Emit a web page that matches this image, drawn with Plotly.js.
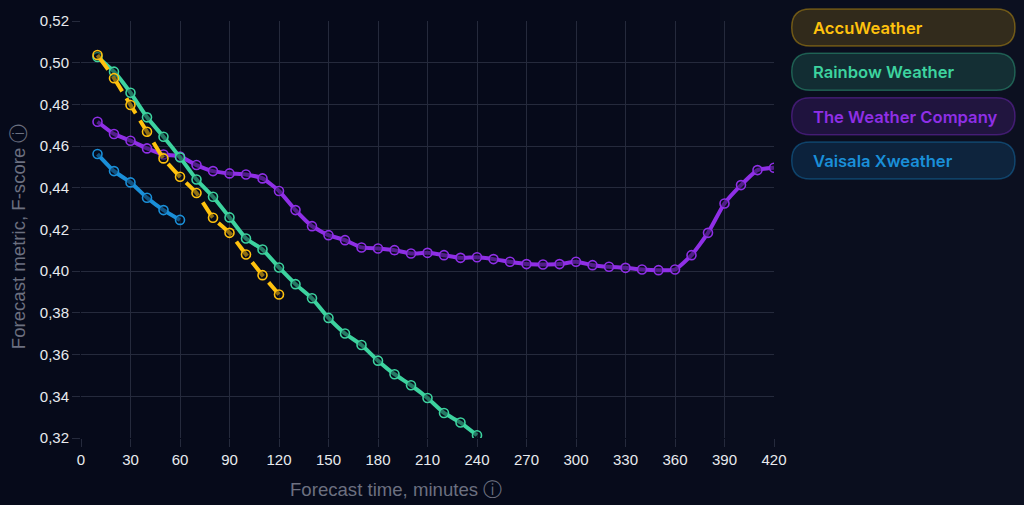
<!DOCTYPE html>
<html>
<head>
<meta charset="utf-8">
<script src="https://cdn.plot.ly/plotly-3.0.1.min.js"></script>
<style>
html,body{margin:0;padding:0;background:#060a1a;}
#chart{width:1024px;height:505px;}
</style>
</head>
<body>
<div id="chart"></div>
<script>
// ---- data ----
const seriesNames = ["AccuWeather", "Rainbow Weather", "The Weather Company", "Vaisala Xweather"];
const xTickVals = [0,30,60,90,120,150,180,210,240,270,300,330,360,390,420];
const yTickVals = [0.32,0.34,0.36,0.38,0.40,0.42,0.44,0.46,0.48,0.50,0.52];

const accuTime = [10,20,30,40,50,60,70,80,90,100,110,120];
const accuScore = [0.5037,0.4926,0.4797,0.4669,0.4541,0.4453,0.4375,0.4256,0.4184,0.4080,0.3981,0.3888];

const rainbowTime = [10,20,30,40,50,60,70,80,90,100,110,120,130,140,150,160,170,180,190,200,210,220,230,240];
const rainbowScore = [0.5027,0.4957,0.4856,0.4738,0.4645,0.4546,0.4440,0.4357,0.4258,0.4157,0.4104,0.4018,0.3938,0.3870,0.3776,0.3701,0.3646,0.3571,0.3506,0.3453,0.3392,0.3320,0.3274,0.3213];

const twcTime = [10,20,30,40,50,60,70,80,90,100,110,120,130,140,150,160,170,180,190,200,210,220,230,240,250,260,270,280,290,300,310,320,330,340,350,360,370,380,390,400,410,420];
const twcScore = [0.4717,0.4658,0.4626,0.4589,0.4560,0.4550,0.4509,0.4480,0.4469,0.4464,0.4445,0.4385,0.4293,0.4216,0.4173,0.4149,0.4114,0.4109,0.4101,0.4085,0.4088,0.4077,0.4064,0.4067,0.4058,0.4045,0.4034,0.4032,0.4034,0.4045,0.4029,0.4021,0.4016,0.4008,0.4005,0.4008,0.4077,0.4184,0.4325,0.4413,0.4485,0.4496];

const vaisalaTime = [10,20,30,40,50,60];
const vaisalaScore = [0.4562,0.4480,0.4426,0.4352,0.4293,0.4246];

// ---- styles ----
const colors = ["#FFC20E", "#3DD39F", "#8F2FE6", "#1A8FD8"];
const rgba = (hex, a) => {
  const n = parseInt(hex.slice(1), 16);
  return `rgba(${(n>>16)&255},${(n>>8)&255},${n&255},${a})`;
};
const gridColor = "#252a3c";

function trace(x, y, i, dash) {
  return {
    type: "scatter", mode: "lines+markers", x: x, y: y, name: seriesNames[i],
    line: {color: colors[i], width: 4, shape: "spline", smoothing: 0.5, dash: dash || "solid"},
    marker: {size: 9, color: "rgba(6,10,26,0.45)", line: {color: colors[i], width: 1.6}},
    hoverinfo: "skip"
  };
}

const data = [
  trace(twcTime, twcScore, 2),
  trace(vaisalaTime, vaisalaScore, 3),
  trace(rainbowTime, rainbowScore, 1),
  trace(accuTime, accuScore, 0, "18px,8px")
];

// plot area in pixels
const L = 81, R = 774, T = 21, B = 437.7;
const px = x => (x - L) / (R - L);
const py = y => (B - y) / (B - T);

function pill(x0, y0, x1, y1, r) {
  const p = [
    ["M", x0 + r, y0], ["L", x1 - r, y0], ["Q", x1, y0, x1, y0 + r], ["L", x1, y1 - r],
    ["Q", x1, y1, x1 - r, y1], ["L", x0 + r, y1], ["Q", x0, y1, x0, y1 - r], ["L", x0, y0 + r],
    ["Q", x0, y0, x0 + r, y0]
  ];
  return p.map(s => {
    const c = s[0]; const v = s.slice(1);
    const out = [];
    for (let k = 0; k < v.length; k += 2) out.push(px(v[k]).toFixed(5) + "," + py(v[k+1]).toFixed(5));
    return c + out.join(" ");
  }).join(" ") + " Z";
}

const shapes = [];
const annotations = [];
// subtle background gradient toward right
for (let k = 0; k < 6; k++) {
  shapes.push({type: "rect", xref: "paper", yref: "paper", x0: px(560 + k*80), x1: px(1030), y0: py(510), y1: py(-5),
    fillcolor: "rgba(40,44,60,0.045)", line: {width: 0}, layer: "below"});
}
const boxTops = [9, 53.3, 97.7, 142];
seriesNames.forEach((name, i) => {
  const y0 = boxTops[i], y1 = y0 + 37;
  shapes.push({type: "path", xref: "paper", yref: "paper", path: pill(791.7, y0, 1015, y1, 18.5),
    fillcolor: rgba(colors[i], 0.16), line: {color: rgba(colors[i], 0.36), width: 1.5}});
  annotations.push({xref: "paper", yref: "paper", x: px(811), y: py((y0 + y1) / 2 + 0.5), xanchor: "left", yanchor: "middle",
    text: name, showarrow: false, font: {family: "Inter, Noto Sans, sans-serif", size: 16.6, color: colors[i], weight: 600}});
});
annotations.push({xref: "paper", yref: "paper", x: px(396), y: py(489), xanchor: "center", yanchor: "middle",
  text: "Forecast time, minutes ⓘ", showarrow: false, font: {family: "Liberation Sans, Arial, sans-serif", size: 18.6, color: "#6c7080"}});
annotations.push({xref: "paper", yref: "paper", x: px(18), y: py(236), xanchor: "center", yanchor: "middle", textangle: -90,
  text: "Forecast metric, F-score ⓘ", showarrow: false, font: {family: "Liberation Sans, Arial, sans-serif", size: 18.6, color: "#6c7080"}});

const layout = {
  width: 1024, height: 505,
  margin: {l: L, r: 1024 - R, t: T, b: 505 - B, pad: 0},
  paper_bgcolor: "#060a1a", plot_bgcolor: "rgba(0,0,0,0)",
  separators: ", ",
  showlegend: false,
  font: {family: "Liberation Sans, Arial, sans-serif", color: "#e8eaee", size: 15},
  xaxis: {range: [0, 420], tickvals: xTickVals, ticktext: xTickVals.map(String), showgrid: true, gridcolor: gridColor, gridwidth: 1,
    zeroline: false, showline: false, ticks: "outside", ticklen: 8, tickcolor: gridColor, tickwidth: 1,
    tickfont: {size: 15, color: "#e8eaee"}, fixedrange: true},
  yaxis: {range: [0.32, 0.52], tickvals: yTickVals, tickformat: ".2f", showgrid: true, gridcolor: gridColor, gridwidth: 1,
    zeroline: false, showline: false, ticks: "outside", ticklen: 8, tickcolor: gridColor, tickwidth: 1,
    tickfont: {size: 15, color: "#e8eaee"}, fixedrange: true},
  shapes: shapes,
  annotations: annotations
};

Plotly.newPlot("chart", data, layout, {displayModeBar: false, staticPlot: true});
</script>
</body>
</html>
